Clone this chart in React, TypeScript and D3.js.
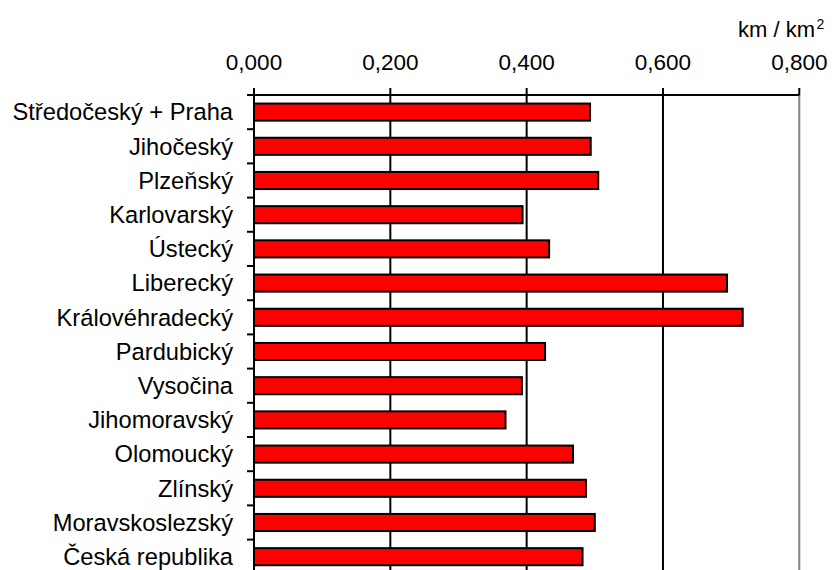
import React from "react";
import * as d3 from "d3";

const categories = [
  "Středočeský + Praha",
  "Jihočeský",
  "Plzeňský",
  "Karlovarský",
  "Ústecký",
  "Liberecký",
  "Královéhradecký",
  "Pardubický",
  "Vysočina",
  "Jihomoravský",
  "Olomoucký",
  "Zlínský",
  "Moravskoslezský",
  "Česká republika",
];
const values = [0.493, 0.494, 0.505, 0.394, 0.433, 0.694, 0.717, 0.427, 0.393, 0.369, 0.468, 0.487, 0.5, 0.482];
const xTicks = [0, 0.2, 0.4, 0.6, 0.8];
const unitLabel = "km / km";
const unitSup = "2";

export default function App() {
  const W = 835;
  const H = 570;
  const left = 254;
  const right = 799.3;
  const top = 95;
  const step = 34.2;
  const bottom = top + step * categories.length;
  const x = d3.scaleLinear().domain([0, 0.8]).range([left, right]);
  const y = d3
    .scaleBand<string>()
    .domain(categories)
    .range([top, bottom])
    .paddingInner(0.5)
    .paddingOuter(0.25);
  const fmt = (v: number) => d3.format(".3f")(v).replace(".", ",");
  const font = "'Liberation Sans', Arial, sans-serif";
  const boundaries = d3.range(categories.length + 1).map((i) => top + i * y.step());

  return (
    <svg
      width={W}
      height={H}
      style={{ position: "absolute", left: 0, top: 0, background: "#fff" }}
      fontFamily={font}
    >
      {/* gridlines */}
      {xTicks.slice(1).map((t, i) => (
        <line
          key={"g" + i}
          x1={x(t)}
          x2={x(t)}
          y1={top}
          y2={bottom}
          stroke={t === 0.8 ? "#808080" : "#000"}
          strokeWidth={2}
        />
      ))}
      {/* bars */}
      {categories.map((c, i) => (
        <rect
          key={c}
          x={x(0)}
          y={y(c)!}
          width={x(values[i]) - x(0)}
          height={y.bandwidth()}
          fill="#ff0000"
          stroke="#000"
          strokeWidth={2}
        />
      ))}
      {/* top axis */}
      <line x1={left - 7} x2={right} y1={top} y2={top} stroke="#000" strokeWidth={2} />
      {xTicks.map((t, i) => (
        <g key={"t" + i}>
          <line x1={x(t)} x2={x(t)} y1={top - 7} y2={top} stroke="#000" strokeWidth={2} />
          <text x={x(t)} y={69.5} textAnchor="middle" fontSize={22.5} fill="#000">
            {fmt(t)}
          </text>
        </g>
      ))}
      {/* left axis */}
      <line x1={left} x2={left} y1={top} y2={bottom} stroke="#000" strokeWidth={2} />
      {boundaries.map((b, i) => (
        <line key={"b" + i} x1={left - 7} x2={left} y1={b} y2={b} stroke="#000" strokeWidth={2} />
      ))}
      {categories.map((c) => (
        <text
          key={"l" + c}
          x={233}
          y={y(c)! + y.bandwidth() / 2}
          dy="0.35em"
          textAnchor="end"
          fontSize={23.7}
          fill="#000"
        >
          {c}
        </text>
      ))}
      {/* unit label */}
      <text x={815} y={37.3} textAnchor="end" fontSize={22} fill="#000">
        {unitLabel}
      </text>
      <text x={816.5} y={29} fontSize={14} fill="#000">
        {unitSup}
      </text>
    </svg>
  );
}
